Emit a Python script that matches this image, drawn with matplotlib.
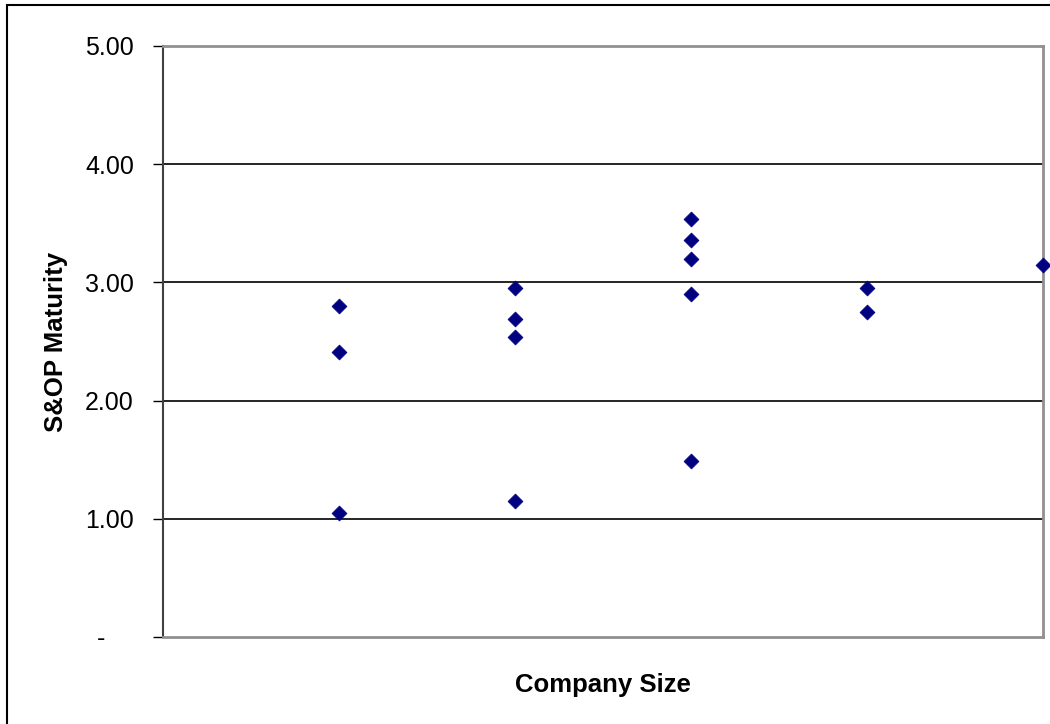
import matplotlib.pyplot as plt
from matplotlib.patches import Rectangle

plt.rcParams['font.family'] = ['Liberation Sans', 'DejaVu Sans']

# Company size group and S&OP maturity score per company
size_group = [1, 1, 1, 2, 2, 2, 2, 3, 3, 3, 3, 3, 4, 4, 5]
maturity = [2.80, 2.41, 1.05,
            2.95, 2.69, 2.54, 1.15,
            3.54, 3.36, 3.20, 2.90, 1.49,
            2.95, 2.75,
            3.15]

y_ticks = [0, 1, 2, 3, 4, 5]
# accounting-style zero: dash padded on the right
y_tick_labels = ['-    ', '1.00', '2.00', '3.00', '4.00', '5.00']

fig = plt.figure(figsize=(10.5, 7.24), dpi=100)
ax = fig.add_axes([163 / 1050, 1 - 637 / 724, 880 / 1050, 591 / 724])

# outer chart border
fig.patches.append(Rectangle((7 / 1050, -0.05), 1.1, 1 - 5 / 724 + 0.05,
                             transform=fig.transFigure, fill=False,
                             edgecolor='black', linewidth=1.5, clip_on=False))

ax.scatter(size_group, maturity, marker='D', s=58, color='#000080',
           edgecolors='#000080', linewidths=0.5, zorder=3, clip_on=False)

ax.set_xlim(0, 5)
ax.set_ylim(0, 5)
ax.set_xticks([])
ax.set_yticks(y_ticks)
ax.set_yticklabels(y_tick_labels, fontsize=18)
ax.tick_params(axis='y', direction='out', length=7, width=1, color='black', pad=14)

for yv in y_ticks[1:5]:
    ax.axhline(yv, color='black', linewidth=1.2, zorder=1)

ax.spines['left'].set_color('#404040')
ax.spines['left'].set_linewidth(1.5)
for side in ['top', 'right', 'bottom']:
    ax.spines[side].set_color('#909090')
    ax.spines[side].set_linewidth(2)

ax.set_xlabel('Company Size', fontsize=18.5, fontweight='bold', labelpad=26)
ax.set_ylabel('S&OP Maturity', fontsize=18.5, fontweight='bold', labelpad=12)

fig.savefig('out.png', dpi=100)
